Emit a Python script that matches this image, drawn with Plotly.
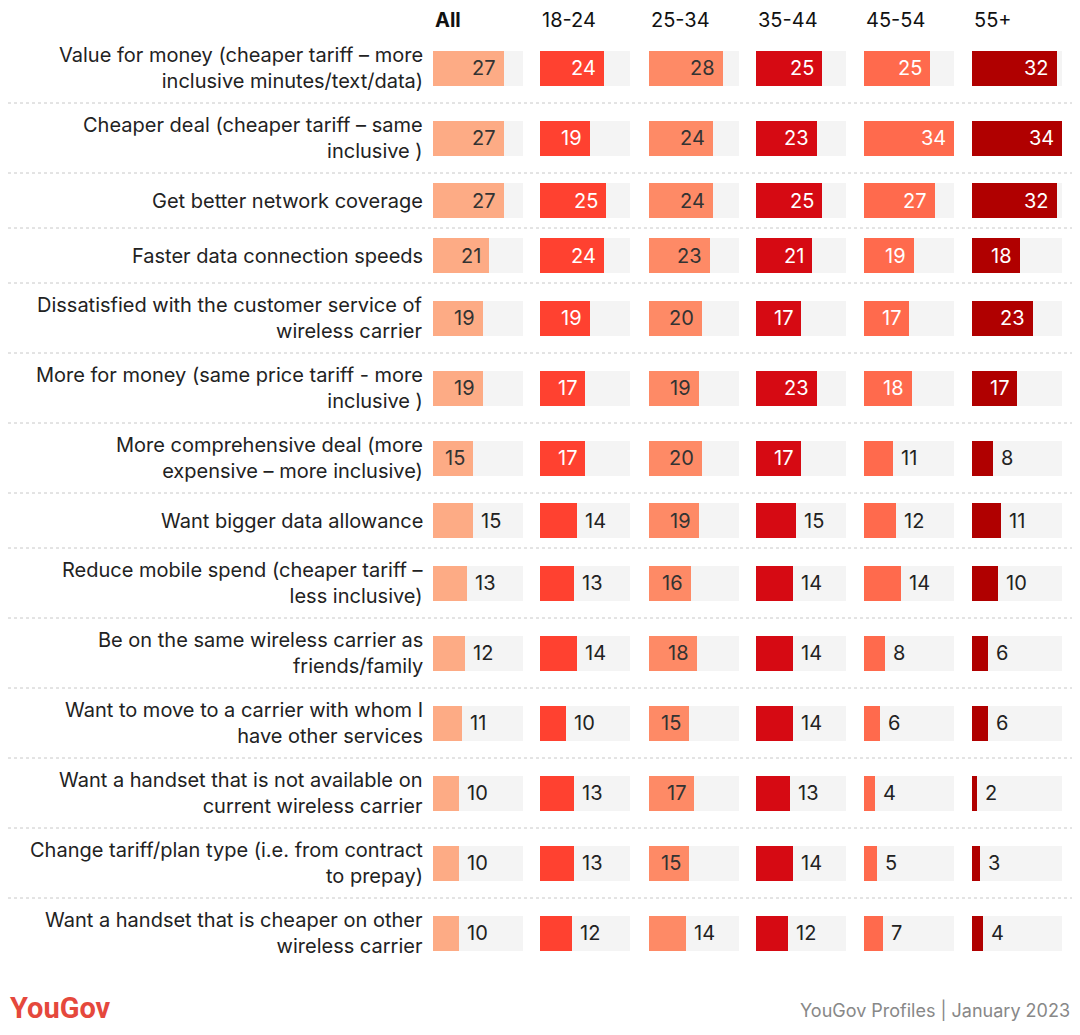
import plotly.graph_objects as go

W, H = 1080, 1035
PAD = 8  # page body margin in the browser

groups = ["All", "18-24", "25-34", "35-44", "45-54", "55+"]
colors = ["#fdab85", "#ff4130", "#fe8a66", "#d60a13", "#ff6a4d", "#b00000"]
text_in_colors = ["#333333", "white", "#333333", "white", "white", "white"]

labels = [
    "Value for money (cheaper tariff – more<br>inclusive minutes/text/data)",
    "Cheaper deal (cheaper tariff – same<br>inclusive )",
    "Get better network coverage",
    "Faster data connection speeds",
    "Dissatisfied with the customer service of<br>wireless carrier",
    "More for money (same price tariff - more<br>inclusive )",
    "More comprehensive deal (more<br>expensive – more inclusive)",
    "Want bigger data allowance",
    "Reduce mobile spend (cheaper tariff –<br>less inclusive)",
    "Be on the same wireless carrier as<br>friends/family",
    "Want to move to a carrier with whom I<br>have other services",
    "Want a handset that is not available on<br>current wireless carrier",
    "Change tariff/plan type (i.e. from contract<br>to prepay)",
    "Want a handset that is cheaper on other<br>wireless carrier",
]

v_all = [27, 27, 27, 21, 19, 19, 15, 15, 13, 12, 11, 10, 10, 10]
v_18_24 = [24, 19, 25, 24, 19, 17, 17, 14, 13, 14, 10, 13, 13, 12]
v_25_34 = [28, 24, 24, 23, 20, 19, 20, 19, 16, 18, 15, 17, 15, 14]
v_35_44 = [25, 23, 25, 21, 17, 23, 17, 15, 14, 14, 14, 13, 14, 12]
v_45_54 = [25, 34, 27, 19, 17, 18, 11, 12, 14, 8, 6, 4, 5, 7]
v_55 = [32, 34, 32, 18, 23, 17, 8, 11, 10, 6, 6, 2, 3, 4]
series = [v_all, v_18_24, v_25_34, v_35_44, v_45_54, v_55]

# cells with a 15 whose label sits outside the bar
outside_exceptions = {(7, 0), (7, 3)}

TRACK_MAX = 34
col_left = [433, 540, 649, 756, 864, 972]
col_width = 90


def px(x):
    return (x - PAD) / W


# row layout from label line counts
row_h = [70 if "<br>" in l else 55 for l in labels]
centers, bounds = [], []
top = 33
for h in row_h:
    centers.append(top + h / 2)
    top += h
    bounds.append(top)

fig = go.Figure()
annotations = []
shapes = []

for j, (g, vals) in enumerate(zip(groups, series)):
    xa = "x" if j == 0 else f"x{j + 1}"
    fig.add_trace(go.Bar(
        x=[TRACK_MAX] * len(vals), y=centers, orientation="h", width=35,
        marker=dict(color="#f4f4f4", line=dict(width=0)),
        xaxis=xa, yaxis="y", hoverinfo="skip", showlegend=False,
    ))
    fig.add_trace(go.Bar(
        x=vals, y=centers, orientation="h", width=35,
        marker=dict(color=colors[j], line=dict(width=0)),
        xaxis=xa, yaxis="y", showlegend=False, name=g,
    ))
    key = "xaxis" if j == 0 else f"xaxis{j + 1}"
    fig.layout[key] = dict(
        domain=[px(col_left[j]), px(col_left[j] + col_width)],
        range=[0, TRACK_MAX], visible=False, fixedrange=True,
    )
    annotations.append(dict(
        x=px(col_left[j]), y=20, xref="paper", yref="y", xanchor="left",
        text=f"<b>{g}</b>" if g == "All" else g, showarrow=False,
        font=dict(size=20, color="#111111"),
    ))
    for i, v in enumerate(vals):
        inside = v >= 15 and (i, j) not in outside_exceptions
        annotations.append(dict(
            x=v, y=centers[i], xref=xa, yref="y",
            xanchor="right" if inside else "left",
            xshift=-6 if inside else 6, text=str(v), showarrow=False,
            font=dict(size=20, color=text_in_colors[j] if inside else "#222222"),
        ))

for i, l in enumerate(labels):
    annotations.append(dict(
        x=px(425), y=centers[i], xref="paper", yref="y", xanchor="right",
        align="right", text=l, showarrow=False,
        font=dict(size=20, color="#222222"),
    ))

for b in bounds[:-1]:
    shapes.append(dict(
        type="line", xref="paper", yref="y", x0=0, x1=px(1072), y0=b, y1=b,
        line=dict(color="#c8c8c8", width=1, dash="dot"),
    ))

annotations.append(dict(
    x=0, y=1008, xref="paper", yref="y", xanchor="left", text="<b>YouGov</b>",
    showarrow=False, font=dict(size=29, color="#e5483c", family="Roboto"),
))
annotations.append(dict(
    x=px(1072), y=1010, xref="paper", yref="y", xanchor="right",
    text="YouGov Profiles | January 2023", showarrow=False,
    font=dict(size=18, color="#888888"),
))

fig.update_layout(
    width=W, height=H, margin=dict(l=0, r=0, t=0, b=0),
    barmode="overlay", bargap=0,
    plot_bgcolor="white", paper_bgcolor="white",
    font=dict(family="Inter, Open Sans, sans-serif"),
    yaxis=dict(range=[H + PAD, PAD], visible=False, fixedrange=True, domain=[0, 1]),
    annotations=annotations, shapes=shapes,
)

fig.write_html("out.html")
